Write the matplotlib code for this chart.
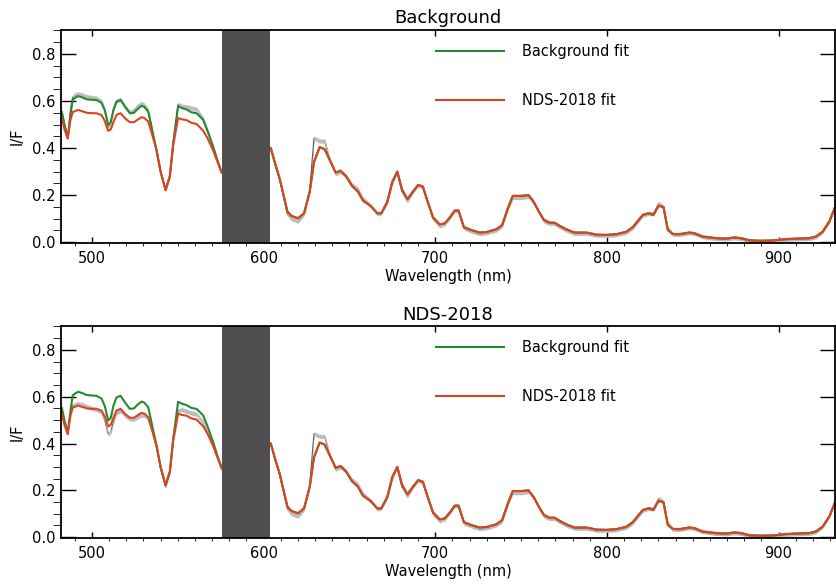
import numpy as np
import matplotlib
matplotlib.use("Agg")
import matplotlib.pyplot as plt
from matplotlib.ticker import MultipleLocator, FormatStrFormatter

# ---- data (I/F vs wavelength) ----
# short-wavelength segment (before the masked region)
wl_a = [482.5, 484.0, 485.9, 487.5, 488.8, 490.5, 492.0, 494.5, 497.0, 500.0,
        502.7, 505.6, 507.5, 509.5, 511.0, 512.5, 514.3, 516.7, 519.2, 522.1,
        524.5, 526.5, 528.9, 530.5, 532.8, 535.0, 537.6, 540.0, 542.9, 545.4,
        547.3, 550.2, 552.5, 555.1, 558.0, 561.0, 564.8, 567.5, 570.6, 573.0,
        575.5]
green_a = [0.552, 0.50, 0.445, 0.54, 0.605, 0.615, 0.621, 0.615, 0.607, 0.605,
           0.604, 0.592, 0.56, 0.498, 0.51, 0.56, 0.597, 0.604, 0.576, 0.548,
           0.550, 0.565, 0.579, 0.575, 0.555, 0.48, 0.392, 0.30, 0.222, 0.28,
           0.417, 0.578, 0.570, 0.564, 0.552, 0.548, 0.52, 0.47, 0.407, 0.35,
           0.298]
red_a = [0.525, 0.48, 0.440, 0.52, 0.553, 0.558, 0.562, 0.556, 0.550, 0.548,
         0.548, 0.540, 0.515, 0.473, 0.48, 0.51, 0.541, 0.548, 0.527, 0.510,
         0.510, 0.520, 0.531, 0.528, 0.513, 0.46, 0.392, 0.30, 0.222, 0.28,
         0.41, 0.527, 0.522, 0.519, 0.507, 0.502, 0.474, 0.44, 0.39, 0.345,
         0.296]
obs_top_a = [0.555, 0.50, 0.445, 0.56, 0.615, 0.628, 0.630, 0.625, 0.618, 0.615,
             0.612, 0.598, 0.565, 0.49, 0.51, 0.565, 0.60, 0.607, 0.578, 0.552,
             0.56, 0.578, 0.59, 0.583, 0.56, 0.48, 0.39, 0.30, 0.222, 0.28,
             0.42, 0.585, 0.578, 0.575, 0.57, 0.565, 0.525, 0.47, 0.405, 0.35,
             0.297]
obs_bot_a = [0.535, 0.49, 0.44, 0.53, 0.562, 0.568, 0.570, 0.566, 0.558, 0.550,
             0.545, 0.535, 0.50, 0.44, 0.45, 0.49, 0.53, 0.54, 0.52, 0.505,
             0.505, 0.512, 0.522, 0.52, 0.505, 0.455, 0.385, 0.295, 0.215, 0.275,
             0.41, 0.54, 0.545, 0.538, 0.53, 0.525, 0.49, 0.445, 0.39, 0.34,
             0.29]

# long-wavelength segment (both fits nearly identical here)
wl_b = [604.2, 606.5, 609.4, 612.0, 613.9, 616.2, 620.1, 623.6, 626.9, 629.4,
        632.7, 635.6, 638.5, 642.0, 644.9, 648.2, 651.5, 655.0, 657.9, 662.4,
        666.3, 668.6, 672.1, 675.0, 677.9, 680.6, 683.8, 687.0, 690.0, 692.8,
        695.8, 698.7, 702.6, 705.5, 708.5, 711.3, 713.6, 716.7, 721.0, 725.8,
        729.7, 735.6, 739.0, 742.3, 745.2, 750.1, 754.4, 757.3, 760.4, 763.3,
        766.6, 769.5, 772.4, 776.3, 781.1, 788.0, 790.9, 793.8, 799.6, 805.4,
        811.2, 815.1, 820.9, 824.4, 827.1, 830.2, 833.0, 835.5, 838.4, 842.3,
        848.1, 851.0, 855.8, 863.6, 869.4, 874.3, 878.2, 883.0, 888.8, 896.6,
        904.3, 910.2, 917.9, 921.8, 925.7, 929.6, 932.7]
fit_b = [0.400, 0.34, 0.270, 0.19, 0.130, 0.112, 0.102, 0.123, 0.215, 0.342,
         0.404, 0.395, 0.35, 0.296, 0.304, 0.279, 0.239, 0.215, 0.177, 0.154,
         0.123, 0.123, 0.172, 0.257, 0.300, 0.225, 0.183, 0.215, 0.243, 0.236,
         0.168, 0.106, 0.076, 0.080, 0.105, 0.134, 0.134, 0.064, 0.052, 0.041,
         0.043, 0.055, 0.073, 0.144, 0.197, 0.197, 0.200, 0.172, 0.130, 0.095,
         0.083, 0.083, 0.070, 0.055, 0.041, 0.041, 0.037, 0.032, 0.031, 0.034,
         0.044, 0.064, 0.116, 0.123, 0.116, 0.155, 0.149, 0.052, 0.035, 0.034,
         0.041, 0.038, 0.024, 0.017, 0.015, 0.020, 0.017, 0.008, 0.006, 0.007,
         0.013, 0.015, 0.017, 0.024, 0.045, 0.088, 0.144]
obs_b = [0.400, 0.335, 0.265, 0.18, 0.12, 0.10, 0.09, 0.12, 0.22, 0.442,
         0.43, 0.43, 0.355, 0.29, 0.30, 0.28, 0.245, 0.225, 0.185, 0.155,
         0.12, 0.125, 0.17, 0.25, 0.30, 0.215, 0.175, 0.215, 0.243, 0.236,
         0.165, 0.10, 0.07, 0.078, 0.105, 0.134, 0.134, 0.06, 0.048, 0.037,
         0.04, 0.052, 0.07, 0.14, 0.19, 0.19, 0.195, 0.17, 0.128, 0.09,
         0.08, 0.08, 0.067, 0.052, 0.038, 0.038, 0.035, 0.03, 0.029, 0.032,
         0.042, 0.062, 0.115, 0.123, 0.12, 0.165, 0.15, 0.06, 0.034, 0.033,
         0.04, 0.037, 0.023, 0.016, 0.014, 0.019, 0.016, 0.007, 0.005, 0.006,
         0.012, 0.014, 0.016, 0.023, 0.045, 0.09, 0.15]
obs_err = 0.009

mask_lo, mask_hi = 576.0, 604.0
titles = ["Background", "NDS-2018"]
legend_labels = ["Background fit", "NDS-2018 fit"]

wl = np.concatenate([wl_a, wl_b])
green = np.concatenate([green_a, fit_b])
red = np.concatenate([red_a, fit_b])
obs_sets = [np.concatenate([obs_top_a, obs_b]), np.concatenate([obs_bot_a, obs_b])]

# ---- figure ----
plt.rcParams['font.family'] = ['DejaVu Sans']
fig = plt.figure(figsize=(8.36, 5.84), dpi=100)
axes = [fig.add_axes([0.073, 0.584, 0.926, 0.364]),
        fig.add_axes([0.073, 0.079, 0.926, 0.362])]

for ax, title, obs in zip(axes, titles, obs_sets):
    # observed spectrum with its uncertainty band
    ax.plot(wl, obs, color='#555555', lw=0.9, zorder=1)
    ax.fill_between(wl, obs - obs_err, obs + obs_err, color='#bdbdbd', lw=0, zorder=2)
    l1, = ax.plot(wl, green, color='#238b2e', lw=1.5, zorder=3, label=legend_labels[0])
    l2, = ax.plot(wl, red, color='#db4420', lw=1.5, zorder=4, label=legend_labels[1])
    # masked wavelength range
    ax.axvspan(mask_lo, mask_hi, color='#4f4f4f', lw=0, zorder=5)

    ax.set_xlim(482, 933)
    ax.set_ylim(-0.003, 0.9)
    ax.xaxis.set_major_locator(MultipleLocator(100))
    ax.xaxis.set_minor_locator(MultipleLocator(10))
    ax.yaxis.set_major_locator(MultipleLocator(0.2))
    ax.yaxis.set_minor_locator(MultipleLocator(0.05))
    ax.yaxis.set_major_formatter(FormatStrFormatter('%.1f'))
    ax.tick_params(direction='in', top=True, right=True, labelsize=10.5, width=1.0)
    ax.tick_params(axis='x', which='major', length=4, pad=6)
    ax.tick_params(axis='x', which='minor', length=2)
    ax.tick_params(axis='y', which='major', length=11, pad=4)
    ax.tick_params(axis='y', which='minor', length=5.5)
    for sp in ax.spines.values():
        sp.set_linewidth(1.3)
        sp.set_zorder(6)

    ax.set_title(title, fontsize=13, pad=5)
    ax.set_xlabel("Wavelength (nm)", fontsize=10.5, labelpad=2)
    ax.set_ylabel("I/F", fontsize=10.5, labelpad=5)
    ax.legend(handles=[l1, l2], loc='upper left', bbox_to_anchor=(0.484, 0.935),
              frameon=False, fontsize=10.5, handlelength=4.7, handletextpad=1.2,
              labelspacing=2.3, borderpad=0, borderaxespad=0)

fig.savefig("out.png", dpi=100)
